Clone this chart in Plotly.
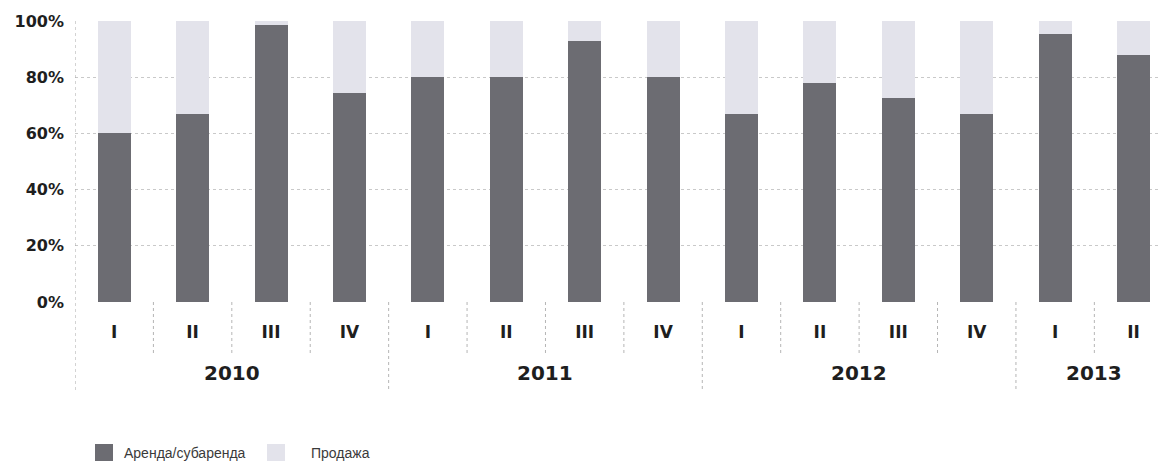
import plotly.graph_objects as go

# Quarterly structure of deals, share in %
years = ["2010", "2010", "2010", "2010",
         "2011", "2011", "2011", "2011",
         "2012", "2012", "2012", "2012",
         "2013", "2013"]
quarters = ["I", "II", "III", "IV", "I", "II", "III", "IV",
            "I", "II", "III", "IV", "I", "II"]
rent = [60, 67, 98.5, 74.5, 80, 80, 93, 80, 67, 78, 72.5, 67, 95.5, 88]
sale = [round(100 - r, 1) for r in rent]
series_names = ["Аренда/субаренда", "Продажа"]
y_ticks = [0, 20, 40, 60, 80, 100]
y_tick_text = [f"{v}%" for v in y_ticks]

DARK = "#6c6c72"
LIGHT = "#e3e3eb"
GRID = "#c9c9c9"
TEXT = "#1e1e1e"

W, H = 1161, 464
ML, MR, MT, MB = 75, 0, 21, 162
plot_w = W - ML - MR
plot_h = H - MT - MB

x = list(range(len(quarters)))
x_max = 13.35


def px_x(px):
    return (px - ML) / plot_w


def px_y(py):
    return (H - MB - py) / plot_h


fig = go.Figure()
fig.add_trace(go.Bar(x=x, y=rent, name=series_names[0], marker_color=DARK,
                     marker_line_width=0))
fig.add_trace(go.Bar(x=x, y=sale, name=series_names[1], marker_color=LIGHT,
                     marker_line_width=0))

shapes = []
# dividers below the axis: short ones between quarters, long ones between years
for i in range(1, len(quarters)):
    long_div = years[i] != years[i - 1]
    shapes.append(dict(type="line", xref="x", yref="paper",
                       x0=i - 0.5, x1=i - 0.5, y0=0,
                       y1=px_y(392) if long_div else px_y(355),
                       line=dict(color="#b5b5b5", width=1, dash="dot")))
# left axis line extending into the label area
shapes.append(dict(type="line", xref="x", yref="paper", x0=-0.5, x1=-0.5,
                   y0=1, y1=px_y(392),
                   line=dict(color="#a8a8a8", width=1, dash="dot")))

annotations = []
# year labels centred under their quarters
seen = []
for yv in years:
    if yv not in seen:
        seen.append(yv)
for yv in seen:
    idx = [i for i, v in enumerate(years) if v == yv]
    annotations.append(dict(x=sum(idx) / len(idx), y=px_y(373), xref="x",
                            yref="paper", text=yv, showarrow=False,
                            xanchor="center", yanchor="middle",
                            font=dict(family="DejaVu Sans", size=20,
                                      color=TEXT, weight="bold")))

# legend drawn beneath the chart
legend_items = [(series_names[0], DARK, 95, 122), (series_names[1], LIGHT, 267, 309)]
for name, col, sx, tx in legend_items:
    shapes.append(dict(type="rect", xref="paper", yref="paper",
                       x0=px_x(sx), x1=px_x(sx + 18),
                       y0=px_y(444), y1=px_y(461),
                       fillcolor=col, line_width=0))
    annotations.append(dict(x=px_x(tx), y=px_y(452.5), xref="paper",
                            yref="paper", text=name, showarrow=False,
                            xanchor="left", yanchor="middle",
                            font=dict(family="Liberation Sans", size=14,
                                      color="#3a3a3a")))

fig.update_layout(
    width=W, height=H,
    margin=dict(l=ML, r=MR, t=MT, b=MB, pad=0),
    barmode="stack",
    bargap=0.58,
    plot_bgcolor="white",
    paper_bgcolor="white",
    showlegend=False,
    shapes=shapes,
    annotations=annotations,
    xaxis=dict(
        range=[-0.5, x_max],
        tickmode="array", tickvals=x, ticktext=quarters,
        showgrid=False, zeroline=False, showline=False,
        ticks="", ticklabelstandoff=18,
        tickfont=dict(family="DejaVu Sans", size=17, color=TEXT,
                      weight="bold"),
    ),
    yaxis=dict(
        range=[0, 100],
        tickmode="array", tickvals=y_ticks, ticktext=y_tick_text,
        showgrid=True, gridcolor=GRID, griddash="dot", gridwidth=1,
        zeroline=False, showline=False, ticks="",
        ticklabelstandoff=10,
        tickfont=dict(family="DejaVu Sans", size=16, color=TEXT,
                      weight="bold"),
    ),
)

fig.write_html("out.html")
